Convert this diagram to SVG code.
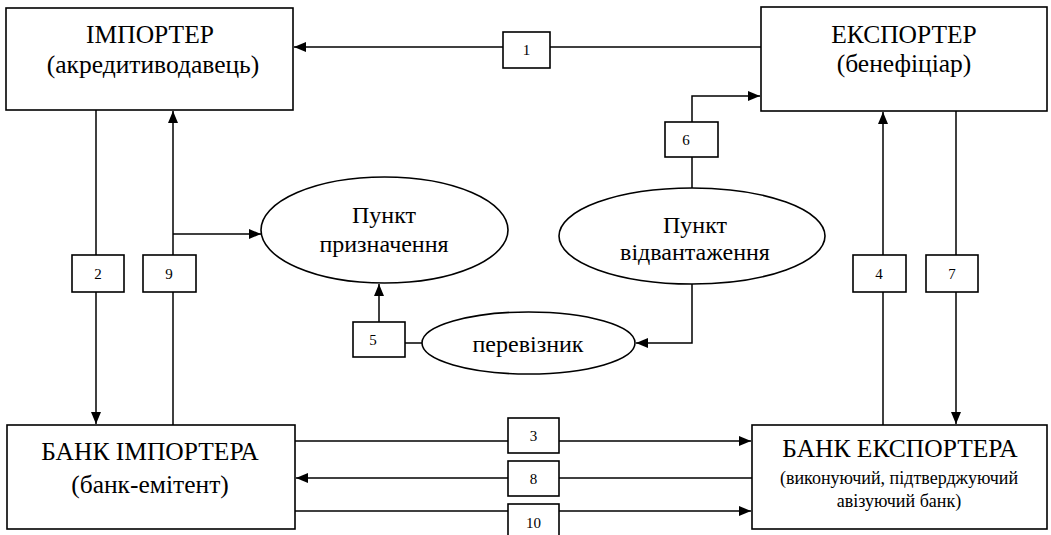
<svg xmlns="http://www.w3.org/2000/svg" width="1051" height="535" viewBox="0 0 1051 535">
<style>
.box{fill:#fff;stroke:#000;stroke-width:1.6}
.ln{fill:none;stroke:#000;stroke-width:1.5}
.t{font-family:"Liberation Serif","DejaVu Serif",serif;fill:#000;text-anchor:middle}
.big{font-size:24px}
.hd{font-size:25.5px}
.sm{font-size:18px}
.num{font-size:15px}
</style>
<defs>
<marker id="ar" viewBox="0 0 12 10" refX="12" refY="5" markerWidth="12" markerHeight="10" markerUnits="userSpaceOnUse" orient="auto">
<path d="M0,0 L12,5 L0,10 Z" fill="#000"/>
</marker>
</defs>
<rect width="1051" height="535" fill="#fff"/>
<g id="connectors">
<line class="ln" x1="761" y1="47" x2="294" y2="47" marker-end="url(#ar)"/>
<line class="ln" x1="96" y1="110" x2="96" y2="424" marker-end="url(#ar)"/>
<line class="ln" x1="173" y1="425" x2="173" y2="111" marker-end="url(#ar)"/>
<line class="ln" x1="173" y1="234" x2="261" y2="234" marker-end="url(#ar)"/>
<line class="ln" x1="883" y1="425" x2="883" y2="112" marker-end="url(#ar)"/>
<line class="ln" x1="956" y1="111" x2="956" y2="424" marker-end="url(#ar)"/>
<polyline class="ln" points="692,188 692,96 760,96" marker-end="url(#ar)"/>
<polyline class="ln" points="692,284 692,343 636,343" marker-end="url(#ar)"/>
<line class="ln" x1="422" y1="343" x2="379" y2="343"/>
<line class="ln" x1="379" y1="322" x2="379" y2="284" marker-end="url(#ar)"/>
<line class="ln" x1="295" y1="441" x2="751" y2="441" marker-end="url(#ar)"/>
<line class="ln" x1="752" y1="478" x2="296" y2="478" marker-end="url(#ar)"/>
<line class="ln" x1="295" y1="511" x2="751" y2="511" marker-end="url(#ar)"/>
</g>
<g id="importer">
<rect class="box" x="6" y="8" width="287" height="102"/>
<text class="t hd" x="150" y="43">ІМПОРТЕР</text>
<text class="t hd" x="153" y="73">(акредитиводавець)</text>
</g>
<g id="exporter">
<rect class="box" x="761" y="7" width="286" height="104"/>
<text class="t hd" x="904" y="43">ЕКСПОРТЕР</text>
<text class="t hd" x="904" y="72">(бенефіціар)</text>
</g>
<g id="bank-importer">
<rect class="box" x="7" y="425" width="288" height="104"/>
<text class="t hd" x="150" y="460">БАНК ІМПОРТЕРА</text>
<text class="t hd" x="150" y="493">(банк-емітент)</text>
</g>
<g id="bank-exporter">
<rect class="box" x="752" y="425" width="295" height="104"/>
<text class="t hd" x="900" y="457">БАНК ЕКСПОРТЕРА</text>
<text class="t sm" x="899" y="484">(виконуючий, підтверджуючий</text>
<text class="t sm" x="899" y="507">авізуючий банк)</text>
</g>
<g id="destination">
<ellipse class="box" cx="384.5" cy="230" rx="123.5" ry="53"/>
<text class="t big" x="384" y="223">Пункт</text>
<text class="t big" x="384" y="252">призначення</text>
</g>
<g id="shipment">
<ellipse class="box" cx="692" cy="236" rx="133" ry="48"/>
<text class="t big" x="695" y="233">Пункт</text>
<text class="t big" x="695" y="260">відвантаження</text>
</g>
<g id="carrier">
<ellipse class="box" cx="528.5" cy="343" rx="106.5" ry="31"/>
<text class="t big" x="528" y="352">перевізник</text>
</g>
<g id="n1"><rect class="box" x="503" y="32" width="47" height="36"/><text class="t num" x="526.5" y="55">1</text></g>
<g id="n2"><rect class="box" x="72" y="255" width="52" height="37"/><text class="t num" x="98" y="279">2</text></g>
<g id="n9"><rect class="box" x="143" y="255" width="53" height="37"/><text class="t num" x="169" y="279">9</text></g>
<g id="n4"><rect class="box" x="853" y="255" width="53" height="37"/><text class="t num" x="879" y="279">4</text></g>
<g id="n7"><rect class="box" x="926" y="255" width="52" height="37"/><text class="t num" x="952" y="279">7</text></g>
<g id="n6"><rect class="box" x="665" y="122" width="53" height="35"/><text class="t num" x="686" y="145">6</text></g>
<g id="n5"><rect class="box" x="353" y="322" width="52" height="35"/><text class="t num" x="373" y="345">5</text></g>
<g id="n3"><rect class="box" x="508" y="418" width="51" height="35"/><text class="t num" x="533.5" y="441">3</text></g>
<g id="n8"><rect class="box" x="508" y="461" width="51" height="35"/><text class="t num" x="533.5" y="484">8</text></g>
<g id="n10"><rect class="box" x="508" y="504" width="51" height="33"/><text class="t num" x="533.5" y="528">10</text></g>
</svg>
